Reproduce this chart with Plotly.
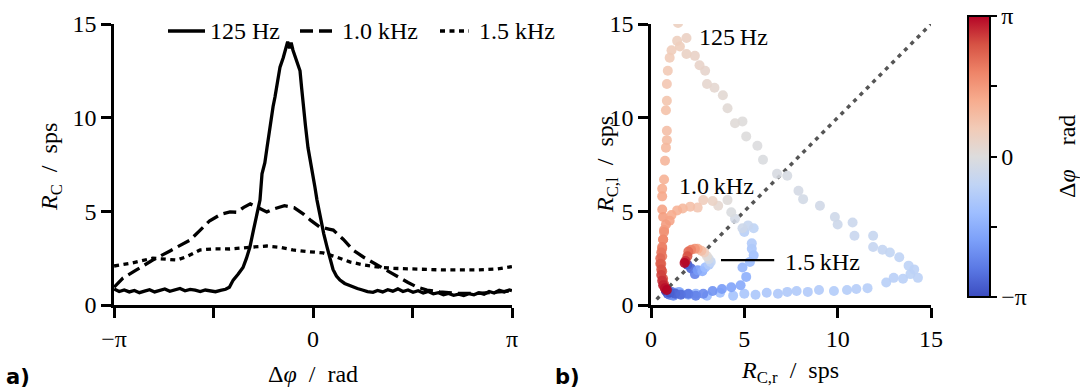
import numpy as np
import plotly.graph_objects as go

PI = np.pi

# ---------------- panel a: coincidence rate vs. phase difference ----------------
phase_125 = [-3.14, -3.06, -2.98, -2.90, -2.82, -2.74, -2.66, -2.58, -2.50, -2.42, -2.34, -2.26,
             -2.18, -2.10, -2.02, -1.94, -1.86, -1.78, -1.70, -1.62, -1.54, -1.46, -1.38, -1.32,
             -1.26, -1.18, -1.105, -1.05, -0.995, -0.94, -0.884, -0.837, -0.805, -0.76, -0.726,
             -0.69, -0.663, -0.63, -0.60, -0.56, -0.521, -0.47, -0.43, -0.40, -0.37, -0.345,
             -0.316, -0.26, -0.205, -0.18, -0.158, -0.12, -0.079, -0.04, 0.0, 0.03, 0.063, 0.12,
             0.17, 0.221, 0.27, 0.316, 0.37, 0.426, 0.50, 0.57, 0.631, 0.70, 0.78, 0.86, 0.947,
             1.02, 1.10, 1.18, 1.26, 1.34, 1.42, 1.50, 1.58, 1.66, 1.74, 1.82, 1.90, 1.98, 2.06,
             2.14, 2.22, 2.30, 2.38, 2.46, 2.54, 2.62, 2.70, 2.78, 2.86, 2.94, 3.02, 3.10, 3.14]
rate_125 = [0.85, 0.72, 0.80, 0.70, 0.78, 0.66, 0.74, 0.82, 0.70, 0.77, 0.86, 0.73,
            0.80, 0.88, 0.76, 0.83, 0.79, 0.72, 0.80, 0.76, 0.71, 0.78, 0.84, 0.95,
            1.33, 1.65, 2.0, 2.5, 3.1, 4.0, 4.9, 5.6, 7.0, 7.6, 8.4,
            9.2, 10.0, 10.6, 11.1, 11.9, 12.7, 13.2, 13.7, 14.05, 13.7, 14.0,
            13.6, 13.0, 12.5, 11.6, 10.8, 9.6, 8.4, 7.7, 7.0, 6.3, 5.6, 4.6,
            3.8, 3.1, 2.5, 1.9, 1.55, 1.33, 1.15, 1.05, 0.98, 0.88, 0.80, 0.72, 0.68,
            0.78, 0.70, 0.82, 0.74, 0.86, 0.72, 0.80, 0.68, 0.76, 0.64, 0.72, 0.60, 0.66, 0.55,
            0.62, 0.52, 0.58, 0.50, 0.60, 0.54, 0.66, 0.58, 0.72, 0.64, 0.78, 0.70, 0.80, 0.76]

phase_1k0 = [-3.14, -3.0, -2.80, -2.53, -2.25, -1.94, -1.78, -1.63, -1.45, -1.31, -1.2, -1.10,
             -0.99, -0.88, -0.73, -0.60, -0.45, -0.30, -0.15, -0.03, 0.11, 0.25, 0.32, 0.48,
             0.63, 0.80, 1.01, 1.17, 1.33, 1.50, 1.64, 1.80, 2.0, 2.3, 2.6, 2.9, 3.14]
rate_1k0 = [0.95, 1.44, 1.85, 2.4, 2.9, 3.47, 4.0, 4.5, 4.85, 4.97, 4.95, 5.2,
            5.4, 5.2, 4.97, 5.15, 5.3, 5.2, 4.85, 4.5, 4.16, 4.05, 4.0, 3.5,
            2.94, 2.55, 2.14, 1.8, 1.5, 1.2, 0.96, 0.80, 0.70, 0.62, 0.62, 0.70, 0.75]

phase_1k5 = [-3.14, -2.85, -2.53, -2.35, -2.15, -1.98, -1.78, -1.55, -1.31, -1.0, -0.73, -0.52,
             -0.32, -0.08, 0.16, 0.38, 0.58, 0.80, 1.01, 1.25, 1.53, 2.05, 2.59, 2.9, 3.14]
rate_1k5 = [2.08, 2.25, 2.5, 2.45, 2.4, 2.6, 2.94, 3.0, 2.99, 3.08, 3.15, 3.08,
            2.94, 2.85, 2.78, 2.55, 2.3, 2.14, 2.03, 1.96, 1.92, 1.87, 1.87, 1.92, 2.05]

series_names = ["125 Hz", "1.0 kHz", "1.5 kHz"]

# ---------------- panel b: left vs. right rate, coloured by phase ----------------
sc_phase_125 = [-3.14, -2.95, -2.75, -2.55, -2.35, -2.15, -1.95, -1.75, -1.58, -1.42, -1.30, -1.20,
                -1.12, -1.06, -1.02, -0.99, -0.96, -0.94, -0.92, -0.90, -0.88, -0.86, -0.84, -0.82,
                -0.80, -0.78, -0.76, -0.74, -0.72, -0.70, -0.68, -0.66, -0.62, -0.58, -0.55, -0.52,
                -0.48, -0.44, -0.40, -0.36, -0.32, -0.28, -0.24, -0.20, -0.16, -0.12, -0.08, -0.04,
                0.00, 0.04, 0.08, 0.12, 0.16, 0.20, 0.24, 0.28, 0.32, 0.36, 0.40, 0.43, 0.46, 0.49,
                0.52, 0.56, 0.60, 0.65, 0.70, 0.76, 0.82, 0.88, 0.94, 1.00, 1.06, 1.14, 1.22, 1.30,
                1.40, 1.50, 1.62, 1.74, 1.86, 1.98, 2.12, 2.28, 2.46, 2.66, 2.88, 3.14]
sc_right_125 = [0.8, 0.9, 1.1, 1.0, 1.3, 1.2, 1.6, 1.5, 2.0, 2.4, 3.0, 3.7,
                4.4, 5.0, 5.6, 6.2, 6.8, 7.3, 7.8, 8.4, 9.0, 9.8, 10.5, 11.0,
                11.6, 12.6, 13.0, 13.5, 13.9, 14.3, 14.1, 13.8, 13.3, 12.8, 12.4, 11.9,
                11.9, 10.9, 10.8, 10.0, 9.85, 9.05, 8.15, 7.9, 7.3, 6.75, 6.0, 5.7,
                5.1, 4.9, 4.5, 4.1, 3.85, 3.4, 3.0, 2.9, 2.6, 2.35, 1.9, 1.9, 1.45, 1.4,
                1.55, 1.1, 1.0, 0.9, 0.85, 0.85, 0.8, 0.85, 0.85, 0.8, 0.75, 0.7, 0.6, 0.6,
                0.6, 0.65, 0.7, 0.65, 0.6, 0.6, 0.55, 0.6, 0.65, 0.7, 0.75, 0.8]
sc_left_125 = [0.75, 0.6, 0.7, 0.55, 0.65, 0.5, 0.6, 0.7, 0.55, 0.6, 0.5, 0.65,
               0.5, 0.6, 0.55, 0.65, 0.6, 0.7, 0.75, 0.7, 0.8, 0.75, 0.8, 0.85,
               0.9, 1.2, 1.45, 1.4, 1.65, 1.45, 1.9, 2.1, 2.55, 2.8, 2.95, 3.1,
               3.7, 3.7, 4.4, 4.3, 4.7, 5.3, 5.65, 6.1, 6.9, 7.0, 7.75, 8.5,
               9.0, 9.8, 9.7, 10.5, 11.2, 11.6, 11.8, 12.5, 12.8, 13.3, 13.4, 14.25, 15.05, 14.1,
               13.8, 13.6, 13.2, 12.5, 11.8, 10.9, 10.4, 9.3, 8.8, 8.4, 7.7, 6.7, 6.2, 5.8,
               5.1, 4.7, 4.0, 3.5, 3.0, 2.6, 2.2, 1.8, 1.4, 1.1, 0.9, 0.8]

sc_phase_1k0 = [-3.14, -3.0, -2.85, -2.7, -2.55, -2.4, -2.25, -2.1, -1.95, -1.8, -1.68, -1.56,
                -1.44, -1.32, -1.2, -1.06, -0.92, -0.78, -0.64, -0.50, -0.36, -0.22, -0.08, 0.06,
                0.2, 0.4, 0.55, 0.7, 0.85, 1.0, 1.12, 1.25, 1.38, 1.52, 1.66, 1.8, 1.94, 2.08,
                2.22, 2.36, 2.5, 2.64, 2.78, 2.92, 3.04, 3.14]
sc_right_1k0 = [0.8, 1.0, 1.3, 1.6, 2.0, 2.4, 2.8, 3.3, 3.8, 4.3, 4.8, 5.1,
                4.9, 5.3, 5.5, 5.4, 5.4, 5.0, 5.5, 5.2, 4.9, 4.5, 4.3, 4.1,
                3.6, 3.3, 2.8, 2.5, 2.1, 1.7, 1.4, 1.1, 1.0, 0.8, 0.7, 0.65, 0.6, 0.55,
                0.5, 0.5, 0.55, 0.55, 0.6, 0.65, 0.75, 0.85]
sc_left_1k0 = [0.8, 0.65, 0.6, 0.55, 0.6, 0.5, 0.6, 0.75, 0.85, 0.95, 1.05, 1.5,
               2.0, 2.3, 2.65, 3.0, 3.3, 3.9, 4.1, 4.25, 4.1, 4.6, 4.95, 5.6,
               5.3, 5.55, 5.6, 5.2, 5.25, 5.15, 5.05, 4.8, 4.5, 4.3, 3.9, 3.5, 3.1, 2.8,
               2.5, 2.2, 1.9, 1.6, 1.3, 1.05, 0.9, 0.8]

sc_phase_1k5 = [-3.14, -2.75, -2.35, -1.95, -1.6, -1.3, -0.95, -0.6, -0.25, 0.1, 0.5, 0.9,
                1.25, 1.6, 1.9, 2.2, 2.5, 2.8, 3.14]
sc_right_1k5 = [1.95, 2.15, 2.35, 2.5, 2.75, 2.9, 3.1, 3.2, 3.1, 3.0, 2.85, 2.7,
                2.5, 2.35, 2.15, 2.0, 1.95, 1.85, 1.8]
sc_left_1k5 = [2.15, 1.95, 1.65, 1.85, 1.8, 2.0, 2.15, 2.3, 2.45, 2.6, 2.8, 2.9,
               3.0, 3.0, 2.95, 2.85, 2.6, 2.35, 2.24]

coolwarm = [[0.0, "#3b4cc0"], [0.1, "#5a78e4"], [0.2, "#7b9ff9"], [0.3, "#9ebeff"],
            [0.4, "#c0d4f5"], [0.5, "#dddcdc"], [0.6, "#f2cbb7"], [0.7, "#f7ac8e"],
            [0.8, "#ee8468"], [0.9, "#d65244"], [1.0, "#b40426"]]

W, H = 1080, 390
SERIF = "Liberation Serif, DejaVu Serif, serif"
SANS = "DejaVu Sans"
FS = 24
DASHES = ["solid", "13px,6px", "5px,4.5px"]


def px(x):
    return x / W


def py(y):
    return 1 - y / H


fig = go.Figure()

line_style = dict(color="black", width=3.3)
for name, ph, rate, dash in zip(series_names, [phase_125, phase_1k0, phase_1k5],
                                [rate_125, rate_1k0, rate_1k5], DASHES):
    fig.add_trace(go.Scatter(x=ph, y=rate, mode="lines", name=name, showlegend=False,
                             line=dict(**line_style, dash=dash), xaxis="x", yaxis="y"))

# diagonal R_l = R_r
fig.add_trace(go.Scatter(x=[0.3, 15], y=[0.3, 15], mode="lines", showlegend=False,
                         line=dict(color="#555555", width=3.5, dash="4px,5px"),
                         xaxis="x2", yaxis="y2"))

for ph, rr, rl in [(sc_phase_125, sc_right_125, sc_left_125),
                   (sc_phase_1k0, sc_right_1k0, sc_left_1k0),
                   (sc_phase_1k5, sc_right_1k5, sc_left_1k5)]:
    fig.add_trace(go.Scatter(x=rr, y=rl, mode="markers", showlegend=False,
                             marker=dict(size=10, color=ph, coloraxis="coloraxis",
                                         line=dict(width=0), opacity=0.9),
                             xaxis="x2", yaxis="y2"))

axis_common = dict(showline=True, linecolor="black", linewidth=2.5, ticks="outside",
                   ticklen=10, tickwidth=2.5, tickcolor="black", showgrid=False,
                   zeroline=False, tickfont=dict(family=SERIF, size=FS, color="black"))

fig.update_layout(
    width=W, height=H,
    margin=dict(l=0, r=0, t=0, b=0, autoexpand=False),
    paper_bgcolor="white", plot_bgcolor="white",
    showlegend=False,
    xaxis=dict(domain=[px(114), px(512)], range=[-PI, PI], anchor="y",
               tickvals=[-PI, -PI / 2, 0, PI / 2, PI], ticktext=["−π", "", "0", "", "π"],
               **axis_common),
    yaxis=dict(domain=[py(305), py(24)], range=[0, 15], anchor="x",
               tickvals=[0, 5, 10, 15], **axis_common),
    xaxis2=dict(domain=[px(651), px(931)], range=[0, 15], anchor="y2",
                tickvals=[0, 5, 10, 15], **axis_common),
    yaxis2=dict(domain=[py(305), py(24)], range=[0, 15], anchor="x2",
                tickvals=[0, 5, 10, 15], **axis_common),
    coloraxis=dict(colorscale=coolwarm, cmin=-PI, cmax=PI,
                   colorbar=dict(x=px(968), xanchor="left", y=py(156.5), yanchor="middle",
                                 len=281 / H, lenmode="fraction", thickness=22,
                                 xpad=0, ypad=0, outlinewidth=2, outlinecolor="black",
                                 ticks="outside", ticklen=6, tickwidth=2, tickcolor="black",
                                 tickvals=[-PI, -PI / 2, 0, PI / 2, PI],
                                 ticktext=["−π", "", "0", "", "π"],
                                 tickfont=dict(family=SERIF, size=FS, color="black"))),
)

ann_font = dict(family=SERIF, size=FS, color="black")


def paper_text(x, y, text, angle=0, font=ann_font, xanchor="center"):
    return dict(x=px(x), y=py(y), text=text, xref="paper", yref="paper", showarrow=False,
                xanchor=xanchor, yanchor="middle", font=font, textangle=angle)


annotations = [
    # axis titles
    paper_text(313, 374, "Δ<i>φ</i>\u2002/\u2002rad"),
    paper_text(51, 167, "<i>R</i><sub>C</sub>\u2002/\u2002sps", angle=-90),
    paper_text(790, 372, "<i>R</i><sub>C,r</sub>\u2002/\u2002sps"),
    paper_text(607, 165, "<i>R</i><sub>C,l</sub>\u2002/\u2002sps", angle=-90),
    paper_text(1067, 157, "Δ<i>φ</i>\u2002\u2002rad", angle=-90),
    # panel letters
    paper_text(4, 377, "<b>a)</b>", font=dict(family=SANS, size=21, color="black"),
               xanchor="left"),
    paper_text(553, 377, "<b>b)</b>", font=dict(family=SANS, size=21, color="black"),
               xanchor="left"),
    # series labels in panel b
    dict(x=2.46, y=14.3, text="125\u2009Hz", xref="x2", yref="y2", xanchor="left",
         yanchor="middle", showarrow=False, font=ann_font),
    dict(x=1.39, y=6.35, text="1.0\u2009kHz", xref="x2", yref="y2", xanchor="left",
         yanchor="middle", showarrow=False, font=ann_font),
    dict(x=7.07, y=2.3, text="1.5\u2009kHz", xref="x2", yref="y2", xanchor="left",
         yanchor="middle", showarrow=False, font=ann_font),
]

# legend of panel a: key line followed by its label
legend_keys = [(168, 205, 208), (300, 334, 340), (440, 469, 477)]
for (k0, k1, tx), name, dash in zip(legend_keys, series_names, DASHES):
    fig.add_shape(type="line", xref="paper", yref="paper", x0=px(k0), x1=px(k1),
                  y0=py(31), y1=py(31), line=dict(color="black", width=3.3, dash=dash))
    annotations.append(paper_text(tx, 31, name, xanchor="left"))

fig.update_layout(annotations=annotations)

fig.add_shape(type="line", x0=3.75, x1=6.6, y0=2.4, y1=2.4, xref="x2", yref="y2",
              line=dict(color="black", width=2.2))

fig.write_html("out.html")
